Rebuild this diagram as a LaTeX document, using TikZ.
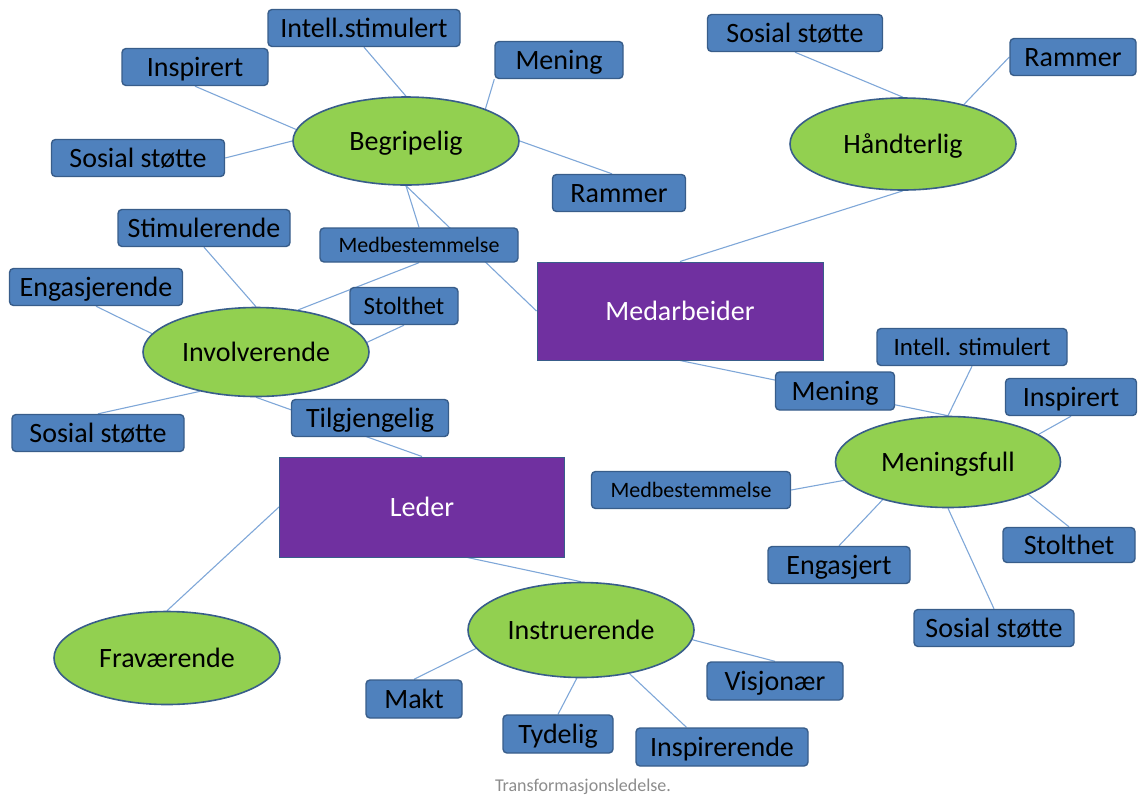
\documentclass[tikz,border=0pt]{standalone}
\usepackage{fontspec}
\setmainfont{Carlito}
\usepackage{tikz}
\usetikzlibrary{shapes.geometric, backgrounds, calc}
\definecolor{tagblue}{HTML}{4F81BD}
\definecolor{edgeblue}{HTML}{385D8A}
\definecolor{ovalgreen}{HTML}{92D050}
\definecolor{hubpurple}{HTML}{7030A0}
\definecolor{linkblue}{HTML}{7FA7D8}
\definecolor{capgrey}{HTML}{8C8C8C}

\begin{document}
\begin{tikzpicture}[
    x=1pt, y=-1pt,
    tag/.style={draw=edgeblue, fill=tagblue, line width=1.4pt, rounded corners=4pt,
                minimum height=37pt, inner sep=2pt, text height=18pt, text depth=0pt,
                font=\fontsize{28pt}{32pt}\selectfont},
    midtag/.style={tag, text height=16pt, font=\fontsize{25pt}{29pt}\selectfont},
    smalltag/.style={tag, text height=14pt, font=\fontsize{22pt}{26pt}\selectfont},
    oval/.style={ellipse, draw=edgeblue, fill=ovalgreen, line width=1.6pt, inner sep=0pt,
                 minimum width=226pt, minimum height=90pt, text height=18pt, text depth=0pt,
                 font=\fontsize{28pt}{32pt}\selectfont},
    hub/.style={draw=edgeblue, fill=hubpurple, line width=1pt, text=white,
                minimum width=286pt, minimum height=98pt, text height=18pt, text depth=0pt,
                font=\fontsize{28pt}{32pt}\selectfont},
    link/.style={draw=linkblue, line width=1.1pt}
]
  \useasboundingbox (0,0) rectangle (1138,796);

  % Hubs
  \node[hub] (medarb) at (680,311) {Medarbeider};
  \node[hub, minimum width=285pt, minimum height=100pt] (leder) at (422,507) {Leder};

  % Begripelig
  \node[oval, minimum height=88pt] (begr) at (406,141) {Begripelig};
  \node[tag, minimum width=192pt] (intell1) at (364,28) {Intell.stimulert};
  \node[tag, minimum width=146pt] (insp1) at (195,67) {Inspirert};
  \node[tag, minimum width=128pt] (men1) at (559,60) {Mening};
  \node[tag, minimum width=173pt] (sos1) at (138,158) {Sosial støtte};
  \node[tag, minimum width=133pt] (ram1) at (619,193) {Rammer};
  \node[smalltag, minimum width=198pt, minimum height=34pt] (med1) at (419,245) {Medbestemmelse};

  % Håndterlig
  \node[oval, minimum height=92pt] (hand) at (903,144) {Håndterlig};
  \node[tag, minimum width=175pt] (sos4) at (795,33) {Sosial støtte};
  \node[tag, minimum width=126pt] (ram2) at (1073,57) {Rammer};

  % Involverende
  \node[oval, minimum height=89pt] (invol) at (256,352) {Involverende};
  \node[tag, minimum width=172pt] (stim) at (204,228) {Stimulerende};
  \node[tag, minimum width=173pt] (enga) at (96,287) {Engasjerende};
  \node[midtag, minimum width=108pt] (stol1) at (404,306) {Stolthet};
  \node[tag, minimum width=172pt] (sos2) at (98,433) {Sosial støtte};
  \node[tag, minimum width=157pt] (tilg) at (370,418) {Tilgjengelig};

  % Meningsfull
  \node[oval, minimum width=225pt, minimum height=91pt] (menf) at (948,462) {Meningsfull};
  \node[midtag, minimum width=190pt] (int2) at (972,347) {Intell. stimulert};
  \node[tag, minimum width=119pt, minimum height=38pt] (men2) at (835,391) {Mening};
  \node[tag, minimum width=131pt] (insp2) at (1071,397) {Inspirert};
  \node[smalltag, minimum width=199pt] (med2) at (691,490) {Medbestemmelse};
  \node[tag, minimum width=142pt] (engt) at (839,565) {Engasjert};
  \node[tag, minimum width=132pt, minimum height=35pt] (stol2) at (1069,545) {Stolthet};
  \node[tag, minimum width=160pt] (sos3) at (994,628) {Sosial støtte};

  % Fraværende and Instruerende
  \node[oval, minimum height=93pt] (frav) at (167,658) {Fraværende};
  \node[oval, minimum height=95pt] (instr) at (581,630) {Instruerende};
  \node[tag, minimum width=96pt, minimum height=38pt] (makt) at (414,699) {Makt};
  \node[tag, minimum width=136pt, minimum height=38pt] (visj) at (775,681) {Visjonær};
  \node[tag, minimum width=110pt, minimum height=38pt] (tyd) at (558,734) {Tydelig};
  \node[tag, minimum width=172pt, minimum height=38pt] (insp3) at (722,747) {Inspirerende};

  \node[text=capgrey, font=\fontsize{18pt}{22pt}\selectfont] (caption) at (583,787) {Transformasjonsledelse.};

  % Connectors behind the shapes
  \begin{scope}[on background layer]
    \foreach \a/\b in {intell1.south/begr.north, insp1.south/begr.174, men1.south west/begr.22,
                       sos1.east/begr.180, ram1.110/begr.east, med1.north/begr.south,
                       medarb.west/begr.south}
      \draw[link] (\a) -- (\b);
    \foreach \a/\b in {med1.south/invol.45, stim.south/invol.north, enga.south/invol.170,
                       stol1.south/invol.5, sos2.north/invol.215, leder.north/invol.south}
      \draw[link] (\a) -- (\b);
    \foreach \a/\b in {sos4.south/hand.north, ram2.west/hand.33, medarb.north/hand.south}
      \draw[link] (\a) -- (\b);
    \foreach \a/\b in {medarb.south/menf.north, int2.south/menf.north, insp2.south/menf.17,
                       med2.east/menf.190, engt.north/menf.210, sos3.north/menf.south,
                       stol2.north/menf.-22}
      \draw[link] (\a) -- (\b);
    \foreach \a/\b in {leder.west/frav.north, leder.-48/instr.north, makt.north/instr.190,
                       tyd.north/instr.-95, insp3.151/instr.-42, visj.north/instr.-5}
      \draw[link] (\a) -- (\b);
  \end{scope}
\end{tikzpicture}
\end{document}
